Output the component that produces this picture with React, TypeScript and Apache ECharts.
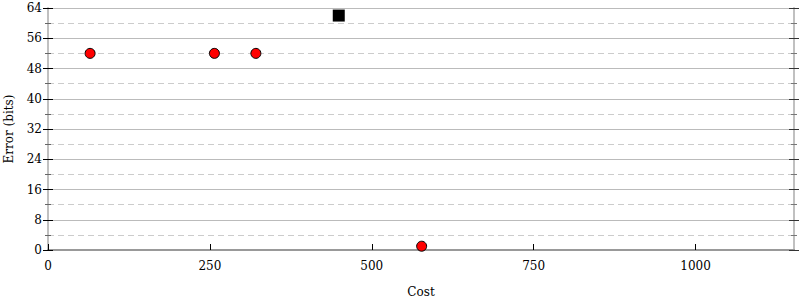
import React, { useEffect, useRef } from "react";
import * as echarts from "echarts";

const redCost = [65, 257, 321, 577];
const redError = [52, 52, 52, 1];
const blackCost = [449];
const blackError = [62];
const xMax = 1152;
const yMax = 64;

const FONT = "DejaVu Serif";

export default function App() {
  const ref = useRef<HTMLDivElement>(null);
  useEffect(() => {
    if (!ref.current) return;
    const chart = echarts.init(ref.current, undefined, { renderer: "svg" });
    const yBase = {
      type: "value" as const,
      min: 0,
      max: yMax,
      interval: 8,
      splitLine: { show: false },
      minorSplitLine: { show: false },
    };
    chart.setOption({
      animation: false,
      grid: { left: 48, right: 6, top: 8, bottom: 50, containLabel: false, outerBoundsMode: "none" },
      xAxis: [
        {
          type: "value",
          min: 0,
          max: xMax,
          interval: 250,
          name: "Cost",
          nameLocation: "middle",
          nameGap: 36,
          nameTextStyle: { fontFamily: FONT, fontSize: 12, color: "#000" },
          axisLine: { show: true, lineStyle: { color: "#999", width: 2 } },
          axisTick: { show: true, inside: true, length: 6, lineStyle: { color: "#000", width: 1 } },
          axisLabel: {
            fontFamily: FONT,
            fontSize: 12,
            color: "#000",
            margin: 10,
            showMaxLabel: false,
            formatter: (v: number) => String(v),
          },
          splitLine: { show: false },
        },
        {
          type: "value",
          position: "top",
          min: 0,
          max: xMax,
          interval: 250,
          axisLine: { show: true, lineStyle: { color: "#999", width: 2 } },
          axisTick: { show: false },
          axisLabel: { show: false },
          splitLine: { show: false },
        },
      ],
      yAxis: [
        {
          ...yBase,
          position: "left",
          name: "Error (bits)",
          nameLocation: "middle",
          nameGap: 33,
          nameTextStyle: { fontFamily: FONT, fontSize: 12, color: "#000" },
          axisLine: { show: true, lineStyle: { color: "#c0c0c0", width: 2 } },
          axisTick: { show: true, inside: false, length: 5, lineStyle: { color: "#000" } },
          minorTick: { show: true, splitNumber: 2, length: 3, lineStyle: { color: "#666" } },
          axisLabel: { fontFamily: FONT, fontSize: 12, color: "#000", margin: 6, formatter: (v: number) => String(v) },
          splitLine: { show: true, lineStyle: { color: "#bbb", width: 1 } },
          minorSplitLine: { show: true, lineStyle: { color: "#ccc", width: 1, type: [6, 4] } },
        },
        {
          ...yBase,
          position: "left",
          axisLine: { show: false },
          axisTick: { show: true, inside: true, length: 5, lineStyle: { color: "#000" } },
          minorTick: { show: true, splitNumber: 2, length: 3, lineStyle: { color: "#666" } },
          axisLabel: { show: false },
        },
        {
          ...yBase,
          position: "right",
          axisLine: { show: true, lineStyle: { color: "#c0c0c0", width: 2 } },
          axisTick: { show: true, inside: true, length: 5, lineStyle: { color: "#333" } },
          minorTick: { show: true, splitNumber: 2, length: 3, lineStyle: { color: "#777" } },
          axisLabel: { show: false },
        },
        {
          ...yBase,
          position: "right",
          axisLine: { show: false },
          axisTick: { show: true, inside: false, length: 5, lineStyle: { color: "#333" } },
          minorTick: { show: true, splitNumber: 2, length: 3, lineStyle: { color: "#777" } },
          axisLabel: { show: false },
        },
      ],
      series: [
        {
          type: "scatter",
          data: redCost.map((c, i) => [c, redError[i]]),
          symbol: "circle",
          symbolSize: 10,
          itemStyle: { color: "#ff0000", borderColor: "#000", borderWidth: 1, opacity: 1 },
          z: 5,
        },
        {
          type: "scatter",
          data: blackCost.map((c, i) => [c, blackError[i]]),
          symbol: "rect",
          symbolSize: 12,
          itemStyle: { color: "#000", opacity: 1 },
          z: 5,
        },
      ],
    });
    return () => chart.dispose();
  }, []);
  return <div ref={ref} style={{ width: 800, height: 300, position: "absolute", left: 0, top: 0 }} />;
}
